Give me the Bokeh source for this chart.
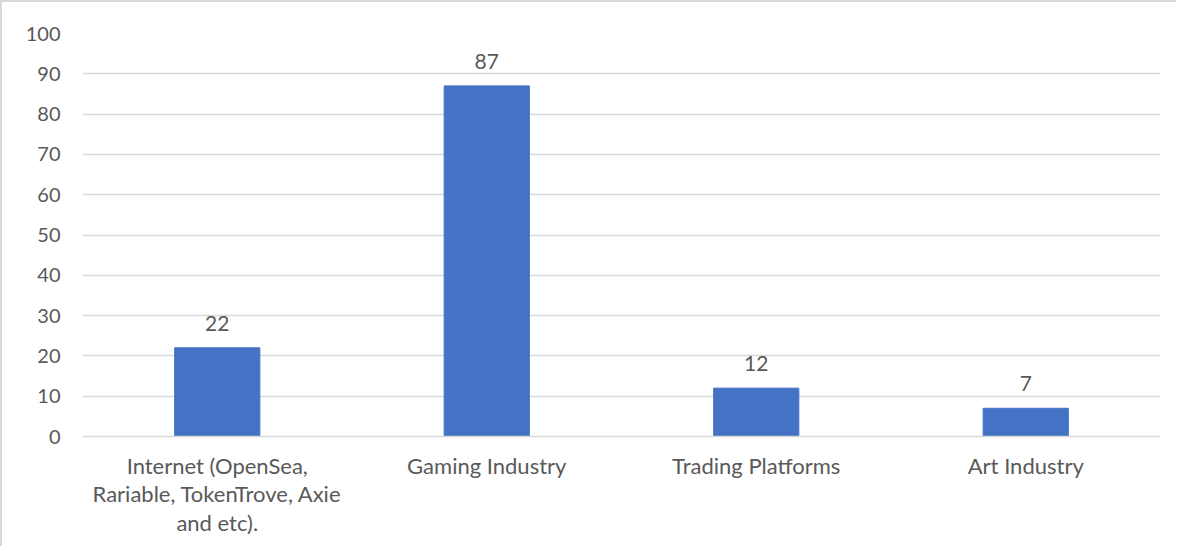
from bokeh.plotting import figure
from bokeh.models import ColumnDataSource, Range1d, FixedTicker, LabelSet
from bokeh.core.properties import value
from bokeh.embed import file_html
from bokeh.resources import INLINE

categories = ["Internet (OpenSea,\nRariable, TokenTrove, Axie\nand etc).", "Gaming Industry", "Trading Platforms", "Art Industry"]
values = [22, 87, 12, 7]
y_ticks = [0, 10, 20, 30, 40, 50, 60, 70, 80, 90, 100]

FONT = "Lato"
TXT = "#595959"
GRID = "#d9d9d9"

src = ColumnDataSource(dict(cat=categories, val=values, lab=[str(v) for v in values]))

p = figure(x_range=categories, y_range=Range1d(0, 100), width=1176, height=546,
           output_backend="svg", toolbar_location=None,
           min_border_left=80, min_border_right=18, min_border_top=31, min_border_bottom=112)
p.styles = {"border-left": "2px solid #d9d9d9", "border-top": "2px solid #d9d9d9"}
p.outline_line_color = None

p.vbar(x="cat", top="val", width=0.316, source=src, color="#4472C4")

labels = LabelSet(x="cat", y="val", text="lab", source=src, text_align="center",
                  text_baseline="bottom", y_offset=17, text_font=value(FONT),
                  text_font_size="21px", text_color=TXT)
p.add_layout(labels)

p.yaxis.ticker = FixedTicker(ticks=y_ticks)
p.yaxis.axis_line_color = None
p.yaxis.major_tick_line_color = None
p.yaxis.minor_tick_line_color = None
p.yaxis.major_label_standoff = 16
p.yaxis.major_label_text_font = FONT
p.yaxis.major_label_text_font_size = "20px"
p.yaxis.major_label_text_color = TXT

p.xaxis.axis_line_color = GRID
p.xaxis.axis_line_width = 1.5
p.xaxis.major_tick_line_color = None
p.xaxis.minor_tick_line_color = None
p.xaxis.major_label_standoff = 9
p.xaxis.major_label_text_font = FONT
p.xaxis.major_label_text_font_size = "22px"
p.xaxis.major_label_text_color = TXT
p.xaxis.major_label_text_line_height = 1.07

p.xgrid.grid_line_color = None
p.ygrid.grid_line_color = GRID
p.ygrid.grid_line_width = 1.5

open("out.html", "w").write(file_html(p, INLINE))
